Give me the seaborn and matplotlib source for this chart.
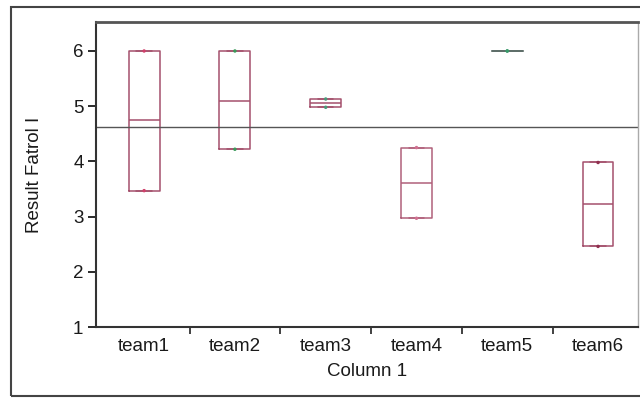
import pandas as pd
import matplotlib.pyplot as plt
import seaborn as sns
from matplotlib.patches import Rectangle

# Values (box goes from min to max, line at median)
teams = ["team1", "team2", "team3", "team4", "team5", "team6"]
team_min = [3.47, 4.22, 4.98, 2.97, 6.0, 2.46]
team_med = [4.75, 5.10, 5.06, 3.60, 6.0, 3.23]
team_max = [6.00, 6.00, 5.13, 4.25, 6.0, 3.98]
ref_line = 4.62

box_colors = ["#a4506c", "#a4506c", "#a4506c", "#b0607a", "#5f6f6a", "#a4506c"]
dot_colors = ["#d0406a", "#3a9a5a", "#4a9a7a", "#d07090", "#3a9a6a", "#903050"]

# five points per team so Q1 = min and Q3 = max
rows = []
for t, lo, md, hi in zip(teams, team_min, team_med, team_max):
    for v in [lo, lo, md, hi, hi]:
        rows.append({"team": t, "value": v})
df = pd.DataFrame(rows)

ends = pd.DataFrame({"team": teams + teams, "value": team_min + team_max})

sns.set_style("white")
plt.rcParams['font.family'] = ['Liberation Sans', 'DejaVu Sans']

fig = plt.figure(figsize=(6.4, 3.98), dpi=100)
ax = fig.add_axes([96 / 640, 71 / 398, 542 / 640, 305 / 398])

sns.boxplot(data=df, x="team", y="value", hue="team", order=teams,
            palette=dict(zip(teams, box_colors)), fill=False, width=0.34,
            whis=(0, 100), linewidth=1.1, legend=False, ax=ax)
sns.stripplot(data=ends, x="team", y="value", hue="team", order=teams,
              palette=dict(zip(teams, dot_colors)), jitter=False, size=2.5,
              legend=False, ax=ax, zorder=5)

ax.axhline(ref_line, color="#555555", lw=1)

ax.set_xlim(-0.53, 5.44)
ax.set_ylim(1, 6.525)
ax.set_yticks([1, 2, 3, 4, 5, 6])
ax.set_xticks([0.5, 1.5, 2.5, 3.5, 4.5], minor=True)
ax.tick_params(axis="x", which="major", length=0, pad=8, labelsize=13.5, colors="#1a1a1a")
ax.tick_params(axis="x", which="minor", length=5, width=1.3, color="#333333", direction="out", bottom=True)
ax.tick_params(axis="y", length=6, width=1.3, pad=3, labelsize=13.5, colors="#1a1a1a", left=True)

ax.set_xlabel("Column 1", fontsize=13.5, color="#1a1a1a", labelpad=6)
ax.set_ylabel("Result Fatrol I", fontsize=13.5, color="#1a1a1a")
ax.yaxis.set_label_coords(-0.098, 0.5)

for side in ["left", "bottom"]:
    ax.spines[side].set_color("#333333")
    ax.spines[side].set_linewidth(1.5)
ax.spines["top"].set_color("#555555")
ax.spines["top"].set_linewidth(2)
ax.spines["right"].set_color("#aaaaaa")
ax.spines["right"].set_linewidth(1)

# outer frame of the graph window
fig.patches.append(Rectangle((11 / 640, 2 / 398), 1.0, 389 / 398, transform=fig.transFigure,
                             fill=False, edgecolor="#444444", lw=1.5))

plt.savefig("out.png", dpi=100)
